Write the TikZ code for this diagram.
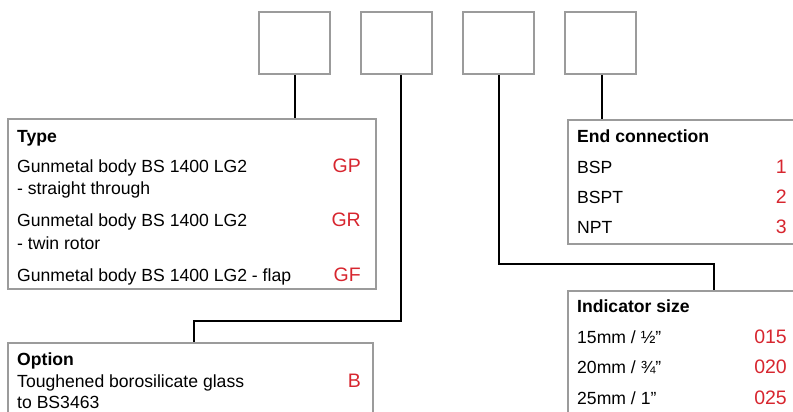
\documentclass[tikz,border=0pt]{standalone}
\usepackage{fontspec}
\setmainfont{Liberation Sans}
\definecolor{codered}{HTML}{D7262F}
\definecolor{framegray}{HTML}{9B9B9B}

\begin{document}
\begin{tikzpicture}[x=1pt,y=-1pt,font=\fontsize{17.6}{20}\selectfont]
\tikzstyle{slot} = [draw=framegray, line width=2pt, minimum width=71pt, minimum height=62pt, inner sep=0]
\tikzstyle{panel} = [draw=framegray, line width=2pt, inner sep=0, anchor=north west]
\tikzstyle{link} = [line width=2pt]
\tikzstyle{head} = [anchor=base west, inner sep=0, font=\fontsize{17.6}{20}\selectfont\bfseries]
\tikzstyle{item} = [anchor=base west, inner sep=0]
\tikzstyle{code} = [anchor=base east, inner sep=0, text=codered, font=\fontsize{19.5}{22}\selectfont]

% Page size
\useasboundingbox (0,0) rectangle (793,412);
\clip (0,0) rectangle (793,412);

% Code slots
\foreach \i/\x in {1/294.5, 2/396.5, 3/498.5, 4/600.5} {
  \node[slot] (s\i) at (\x,43) {};
}

% Panels
\node[panel, minimum width=368pt, minimum height=170pt] (tbox) at (7,118) {};
\node[panel, minimum width=365pt, minimum height=110pt] (obox) at (7,342) {};
\node[panel, minimum width=250pt, minimum height=124pt] (ebox) at (567,119) {};
\node[panel, minimum width=250pt, minimum height=150pt] (ibox) at (567,290) {};

% --- Type -------------------------------------------------------------
\node[head] (type-h) at (17,142) {Type};
\foreach \y/\txt [count=\n] in {172/Gunmetal body BS 1400 LG2, 194/- straight through,
    226/Gunmetal body BS 1400 LG2, 249/- twin rotor, 281/Gunmetal body BS 1400 LG2 - flap} {
  \node[item] (type-\n) at (17,\y) {\txt};
}
\foreach \y/\c in {172/GP, 226/GR, 281/GF} {
  \node[code] (code-\c) at (361,\y) {\c};
}

% --- Option -----------------------------------------------------------
\node[head] (opt-h) at (17,365) {Option};
\node[item] (opt-1) at (17,387.5) {Toughened borosilicate glass};
\node[item] (opt-2) at (17,408.5) {to BS3463};
\node[code] (code-B) at (361,387.5) {B};

% --- End connection ---------------------------------------------------
\node[head] (end-h) at (577,142) {End connection};
\foreach \y/\txt/\c in {173/BSP/1, 203/BSPT/2, 233/NPT/3} {
  \node[item] (end-\c) at (577,\y) {\txt};
  \node[code] (code-\c) at (787,\y) {\c};
}

% --- Indicator size ---------------------------------------------------
\node[head] (ind-h) at (577,312) {Indicator size};
\foreach \y/\txt/\c in {343/{15mm / ½”}/015, 373/{20mm / ¾”}/020, 404/{25mm / 1”}/025} {
  \node[item] (ind-\c) at (577,\y) {\txt};
  \node[code] (code-\c) at (787,\y) {\c};
}

% Connectors
\coordinate (kneeO) at (194,321);
\coordinate (kneeI) at (714,264);
\draw[link] (s1.south) -- (s1.south |- tbox.north);
\draw[link] ([xshift=4.5pt]s2.south) |- (kneeO) -- (kneeO |- obox.north);
\draw[link] (s3.south) |- (kneeI) -- (kneeI |- ibox.north);
\draw[link] ([xshift=1.5pt]s4.south) -- ([xshift=1.5pt]s4.south |- ebox.north);

\end{tikzpicture}
\end{document}
